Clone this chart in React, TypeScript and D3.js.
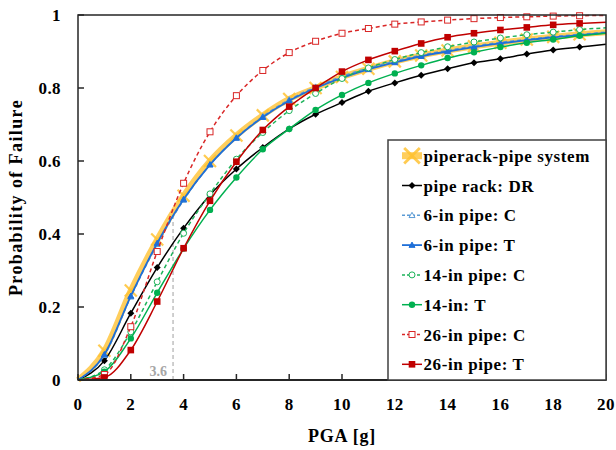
import React from "react";
import * as d3 from "d3";

const pga = [0, 1, 2, 3, 4, 5, 6, 7, 8, 9, 10, 11, 12, 13, 14, 15, 16, 17, 18, 19, 20];
const xTicks = [0, 2, 4, 6, 8, 10, 12, 14, 16, 18, 20];
const yTicks = [0, 0.2, 0.4, 0.6, 0.8, 1];

const systemVals = [0, 0.08, 0.245, 0.385, 0.505, 0.6, 0.67, 0.725, 0.77, 0.8, 0.83, 0.853, 0.873, 0.889, 0.903, 0.914, 0.924, 0.933, 0.94, 0.947, 0.953];
const rackDR = [0, 0.053, 0.183, 0.308, 0.416, 0.507, 0.578, 0.637, 0.688, 0.728, 0.76, 0.791, 0.814, 0.835, 0.853, 0.869, 0.88, 0.893, 0.904, 0.912, 0.92];
const pipe6C = [0, 0.068, 0.228, 0.372, 0.493, 0.59, 0.664, 0.722, 0.768, 0.803, 0.832, 0.855, 0.874, 0.89, 0.903, 0.915, 0.925, 0.933, 0.941, 0.947, 0.953];
const pipe6T = [0, 0.07, 0.23, 0.375, 0.495, 0.59, 0.663, 0.72, 0.765, 0.8, 0.828, 0.851, 0.87, 0.887, 0.9, 0.912, 0.922, 0.931, 0.939, 0.945, 0.951];
const pipe14C = [0, 0.028, 0.132, 0.269, 0.402, 0.51, 0.605, 0.678, 0.738, 0.785, 0.826, 0.855, 0.878, 0.897, 0.913, 0.926, 0.937, 0.946, 0.953, 0.96, 0.965];
const pipe14T = [0, 0.023, 0.114, 0.239, 0.36, 0.466, 0.555, 0.632, 0.688, 0.74, 0.781, 0.814, 0.84, 0.862, 0.882, 0.898, 0.912, 0.924, 0.933, 0.943, 0.95];
const pipe26C = [0, 0.015, 0.146, 0.352, 0.539, 0.68, 0.779, 0.848, 0.897, 0.928, 0.95, 0.963, 0.975, 0.981, 0.986, 0.99, 0.993, 0.995, 0.997, 0.998, 0.999];
const pipe26T = [0, 0.007, 0.082, 0.215, 0.361, 0.491, 0.598, 0.685, 0.749, 0.8, 0.845, 0.877, 0.901, 0.922, 0.939, 0.95, 0.959, 0.966, 0.973, 0.977, 0.98];

const markedX = 3.6;

type Marker = "star" | "diamond" | "triOpen" | "tri" | "circOpen" | "circ" | "sqOpen" | "sq";
interface Series { name: string; values: number[]; color: string; width: number; dash?: string; marker: Marker; }

const series: Series[] = [
  { name: "piperack-pipe system", values: systemVals, color: "#FFC233", width: 6, marker: "star" },
  { name: "pipe rack: DR", values: rackDR, color: "#000000", width: 1.5, marker: "diamond" },
  { name: "6-in pipe: C", values: pipe6C, color: "#5B9BD5", width: 1.5, dash: "4,3", marker: "triOpen" },
  { name: "6-in pipe: T", values: pipe6T, color: "#1F6FD8", width: 1.8, marker: "tri" },
  { name: "14-in pipe: C", values: pipe14C, color: "#1DB35A", width: 1.5, dash: "4,3", marker: "circOpen" },
  { name: "14-in: T", values: pipe14T, color: "#00B050", width: 1.5, marker: "circ" },
  { name: "26-in pipe: C", values: pipe26C, color: "#D92626", width: 1.5, dash: "4,3", marker: "sqOpen" },
  { name: "26-in pipe: T", values: pipe26T, color: "#C00000", width: 1.5, marker: "sq" },
];

const W = 616, H = 450;
const L = 78, R = 606, T = 15, B = 380;
const FONT = "'Liberation Serif', 'Times New Roman', serif";

function drawMarker(m: Marker, cx: number, cy: number, color: string, key: string, scale = 1) {
  const s = scale;
  switch (m) {
    case "star": {
      const a = 6 * s;
      return (
        <g key={key} stroke={color} strokeWidth={2.2 * s} strokeOpacity={0.85}>
          <line x1={cx - a} y1={cy - a} x2={cx + a} y2={cy + a} />
          <line x1={cx - a} y1={cy + a} x2={cx + a} y2={cy - a} />
        </g>
      );
    }
    case "diamond": {
      const a = 3.5 * s;
      return <path key={key} d={`M${cx},${cy - a}L${cx + a},${cy}L${cx},${cy + a}L${cx - a},${cy}Z`} fill={color} />;
    }
    case "tri":
    case "triOpen": {
      const a = 3 * s;
      return <path key={key} d={`M${cx},${cy - a}L${cx + a},${cy + a * 0.75}L${cx - a},${cy + a * 0.75}Z`} fill={m === "tri" ? color : "#fff"} stroke={color} strokeWidth={1} />;
    }
    case "circ":
      return <circle key={key} cx={cx} cy={cy} r={3.2 * s} fill={color} />;
    case "circOpen":
      return <circle key={key} cx={cx} cy={cy} r={3 * s} fill="#fff" stroke={color} strokeWidth={1} />;
    case "sq":
      return <rect key={key} x={cx - 3.3 * s} y={cy - 3.3 * s} width={6.6 * s} height={6.6 * s} fill={color} />;
    case "sqOpen":
      return <rect key={key} x={cx - 3 * s} y={cy - 3 * s} width={6 * s} height={6 * s} fill="#fff" stroke={color} strokeWidth={1} />;
  }
}

export default function App() {
  const x = d3.scaleLinear().domain([0, 20]).range([L, R]);
  const y = d3.scaleLinear().domain([0, 1]).range([B, T]);
  const line = d3.line<number>().x((_, i) => x(pga[i])).y((v) => y(v)).curve(d3.curveMonotoneX);

  const sysAt = d3.scaleLinear().domain(pga).range(systemVals);
  const dashTop = y(sysAt(markedX));

  const legX = 388, legY = 140, legW = 218, legH = 240;
  const rowH = 29.8;

  return (
    <svg width={W} height={H} style={{ position: "absolute", left: 0, top: 0, background: "#fff" }} fontFamily={FONT}>
      <rect x={0} y={0} width={W} height={H} fill="#fff" />
      <line x1={x(markedX)} x2={x(markedX)} y1={B} y2={dashTop} stroke="#B0B0B0" strokeWidth={1.2} strokeDasharray="4,3" />
      <text x={x(markedX) - 6} y={B - 4} textAnchor="end" fontSize={14} fontWeight="bold" fill="#A6A6A6">3.6</text>

      <g>
        {series.map((s, si) => (
          <g key={s.name}>
            <path d={line(s.values) || ""} fill="none" stroke={s.color} strokeWidth={s.width} strokeDasharray={s.dash} strokeOpacity={si === 0 ? 0.8 : 1} />
            {s.values.map((v, i) => (pga[i] >= 1 && pga[i] <= 19 ? drawMarker(s.marker, x(pga[i]), y(v), s.color, `${s.name}-${i}`) : null))}
          </g>
        ))}
      </g>

      <rect x={L} y={T} width={R - L} height={B - T} fill="none" stroke="#262626" strokeWidth={1.5} />
      <line x1={L} x2={R} y1={B} y2={B} stroke="#262626" strokeWidth={2} />

      {xTicks.map((t) => (
        <g key={`xt${t}`}>
          <line x1={x(t)} x2={x(t)} y1={B} y2={B - 6} stroke="#262626" strokeWidth={1.5} />
          <text x={x(t)} y={410} textAnchor="middle" fontSize={17} fontWeight="bold" letterSpacing={0.4} fill="#000">{t}</text>
        </g>
      ))}
      {yTicks.map((t) => (
        <g key={`yt${t}`}>
          <line x1={L} x2={L + 6} y1={y(t)} y2={y(t)} stroke="#262626" strokeWidth={1.5} />
          <text x={61} y={y(t) + 6} textAnchor="end" fontSize={17} fontWeight="bold" letterSpacing={0.4} fill="#000">{t}</text>
        </g>
      ))}

      <text x={(L + R) / 2} y={442} textAnchor="middle" fontSize={18} fontWeight="bold" letterSpacing={0.8} fill="#000">PGA [g]</text>
      <text transform={`translate(22,${(T + B) / 2}) rotate(-90)`} textAnchor="middle" fontSize={18} fontWeight="bold" letterSpacing={1.4} fill="#000">Probability of Failure</text>

      <rect x={legX} y={legY} width={legW} height={legH} fill="#fff" stroke="#404040" strokeWidth={1.5} />
      {series.map((s, i) => {
        const cy = legY + 15.7 + i * rowH;
        const x1 = 402, x2 = 422, cx = 412;
        return (
          <g key={`leg${s.name}`}>
            {i === 0 ? (
              <>
                <line x1={x1} x2={x2} y1={cy} y2={cy} stroke={s.color} strokeWidth={7} strokeOpacity={0.8} />
                {drawMarker("star", cx, cy, s.color, "legstar", 1.3)}
              </>
            ) : (
              <>
                <line x1={x1} x2={x2} y1={cy} y2={cy} stroke={s.color} strokeWidth={s.width} strokeDasharray={s.dash ? "3,2" : undefined} />
                {drawMarker(s.marker, cx, cy, s.color, `legm${i}`)}
              </>
            )}
            <text x={423.5} y={cy + 6} fontSize={17} fontWeight="bold" letterSpacing={0.6} fill="#000">{s.name}</text>
          </g>
        );
      })}
    </svg>
  );
}
